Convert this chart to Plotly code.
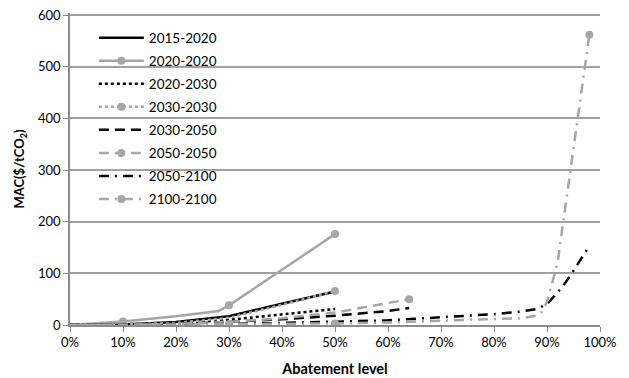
import plotly.graph_objects as go

names = ["2015-2020", "2020-2020", "2020-2030", "2030-2030",
         "2030-2050", "2050-2050", "2050-2100", "2100-2100"]

x_2015_2020 = [0, 0.1, 0.2, 0.3, 0.4, 0.5]
y_2015_2020 = [0, 1, 6, 17, 41, 65]

x_2020_2020 = [0, 0.1, 0.2, 0.28, 0.3, 0.5]
y_2020_2020 = [0, 7, 17, 27, 38, 176]

x_2020_2030 = [0, 0.1, 0.2, 0.3, 0.4, 0.5]
y_2020_2030 = [0, 1, 3, 10, 20, 31]

x_2030_2030 = [0, 0.1, 0.2, 0.3, 0.4, 0.5]
y_2030_2030 = [0, 1, 4, 14, 39, 66]

x_2030_2050 = [0, 0.1, 0.2, 0.3, 0.4, 0.5, 0.6, 0.64]
y_2030_2050 = [0, 0.5, 2, 6, 11, 18, 27, 33]

x_2050_2050 = [0, 0.1, 0.2, 0.3, 0.4, 0.5, 0.6, 0.64]
y_2050_2050 = [0, 0.5, 2, 6, 13, 24, 42, 50]

x_2050_2100 = [0, 0.1, 0.2, 0.3, 0.4, 0.5, 0.6, 0.65, 0.7, 0.8, 0.85, 0.88,
               0.9, 0.93, 0.95, 0.98]
y_2050_2100 = [0, 0.3, 1, 2, 4, 6, 9, 12, 15, 21, 26, 31, 40, 75, 105, 153]

x_2100_2100 = [0, 0.1, 0.2, 0.3, 0.4, 0.5, 0.6, 0.7, 0.8, 0.85, 0.88, 0.89,
               0.9, 0.91, 0.92, 0.93, 0.94, 0.95, 0.96, 0.97, 0.98]
y_2100_2100 = [0, 0.5, 1, 2, 2.5, 3, 5, 8, 12, 13, 18, 25, 45, 80, 120, 195,
               270, 345, 410, 490, 562]

x_ticks = [0, 0.1, 0.2, 0.3, 0.4, 0.5, 0.6, 0.7, 0.8, 0.9, 1.0]
y_ticks = [0, 100, 200, 300, 400, 500, 600]

BLACK = "#000000"
GRAY = "#a6a6a6"

series = [
    (names[0], x_2015_2020, y_2015_2020, BLACK, "solid", None),
    (names[1], x_2020_2020, y_2020_2020, GRAY, "solid", [1, 4, 5]),
    (names[2], x_2020_2030, y_2020_2030, BLACK, "dot", None),
    (names[3], x_2030_2030, y_2030_2030, GRAY, "dot", [5]),
    (names[4], x_2030_2050, y_2030_2050, BLACK, "10px,6px", None),
    (names[5], x_2050_2050, y_2050_2050, GRAY, "10px,6px", [7]),
    (names[6], x_2050_2100, y_2050_2100, BLACK, "10px,6px,2px,6px", None),
    (names[7], x_2100_2100, y_2100_2100, GRAY, "10px,6px,2px,6px", [3, 5, 20]),
]

fig = go.Figure()
for name, xs, ys, color, dash, marks in series:
    if marks is None:
        fig.add_trace(go.Scatter(
            x=xs, y=ys, name=name, mode="lines", legendgroup=name,
            line=dict(color=color, width=2.5, dash=dash),
        ))
    else:
        fig.add_trace(go.Scatter(
            x=xs, y=ys, name=name, mode="lines+markers", legendgroup=name,
            line=dict(color=color, width=2.5, dash=dash),
            marker=dict(color=color, size=8),
            selectedpoints=marks,
            selected=dict(marker=dict(opacity=1)),
            unselected=dict(marker=dict(opacity=0)),
        ))

FONT = "Lato"
# page body adds an 8px offset, so the figure is sized 8px smaller
fig.update_layout(
    width=621, height=370,
    margin=dict(l=62, r=29, t=5, b=53),
    paper_bgcolor="white", plot_bgcolor="white",
    font=dict(family=FONT, size=13, color="#000000"),
    showlegend=True,
    legend=dict(
        x=0.045, y=0.97, xanchor="left", yanchor="top",
        bgcolor="rgba(0,0,0,0)", font=dict(family=FONT, size=13.5),
        traceorder="grouped", tracegroupgap=2.5, itemwidth=45,
    ),
    xaxis=dict(
        range=[0, 1], tickvals=x_ticks, tickformat=".0%", automargin=False,
        showgrid=False, zeroline=False, ticklabeloverflow="allow",
        showline=True, linecolor="#8c8c8c", linewidth=1.5,
        ticks="outside", tickcolor="#8c8c8c", ticklen=5,
        title=dict(text="<b>Abatement level</b>", font=dict(family=FONT, size=14.5), standoff=15),
    ),
    yaxis=dict(
        range=[0, 604], tickvals=y_ticks, automargin=False,
        showgrid=True, gridcolor="#a0a0a0", gridwidth=1.5,
        zeroline=False, ticklabeloverflow="allow",
        showline=True, linecolor="#8c8c8c", linewidth=1.5,
        ticks="outside", tickcolor="#8c8c8c", ticklen=5,
        title=dict(text="<b>MAC($/tCO<sub>2</sub>)</b>", font=dict(family=FONT, size=13), standoff=10),
    ),
)

fig.write_html("out.html")
